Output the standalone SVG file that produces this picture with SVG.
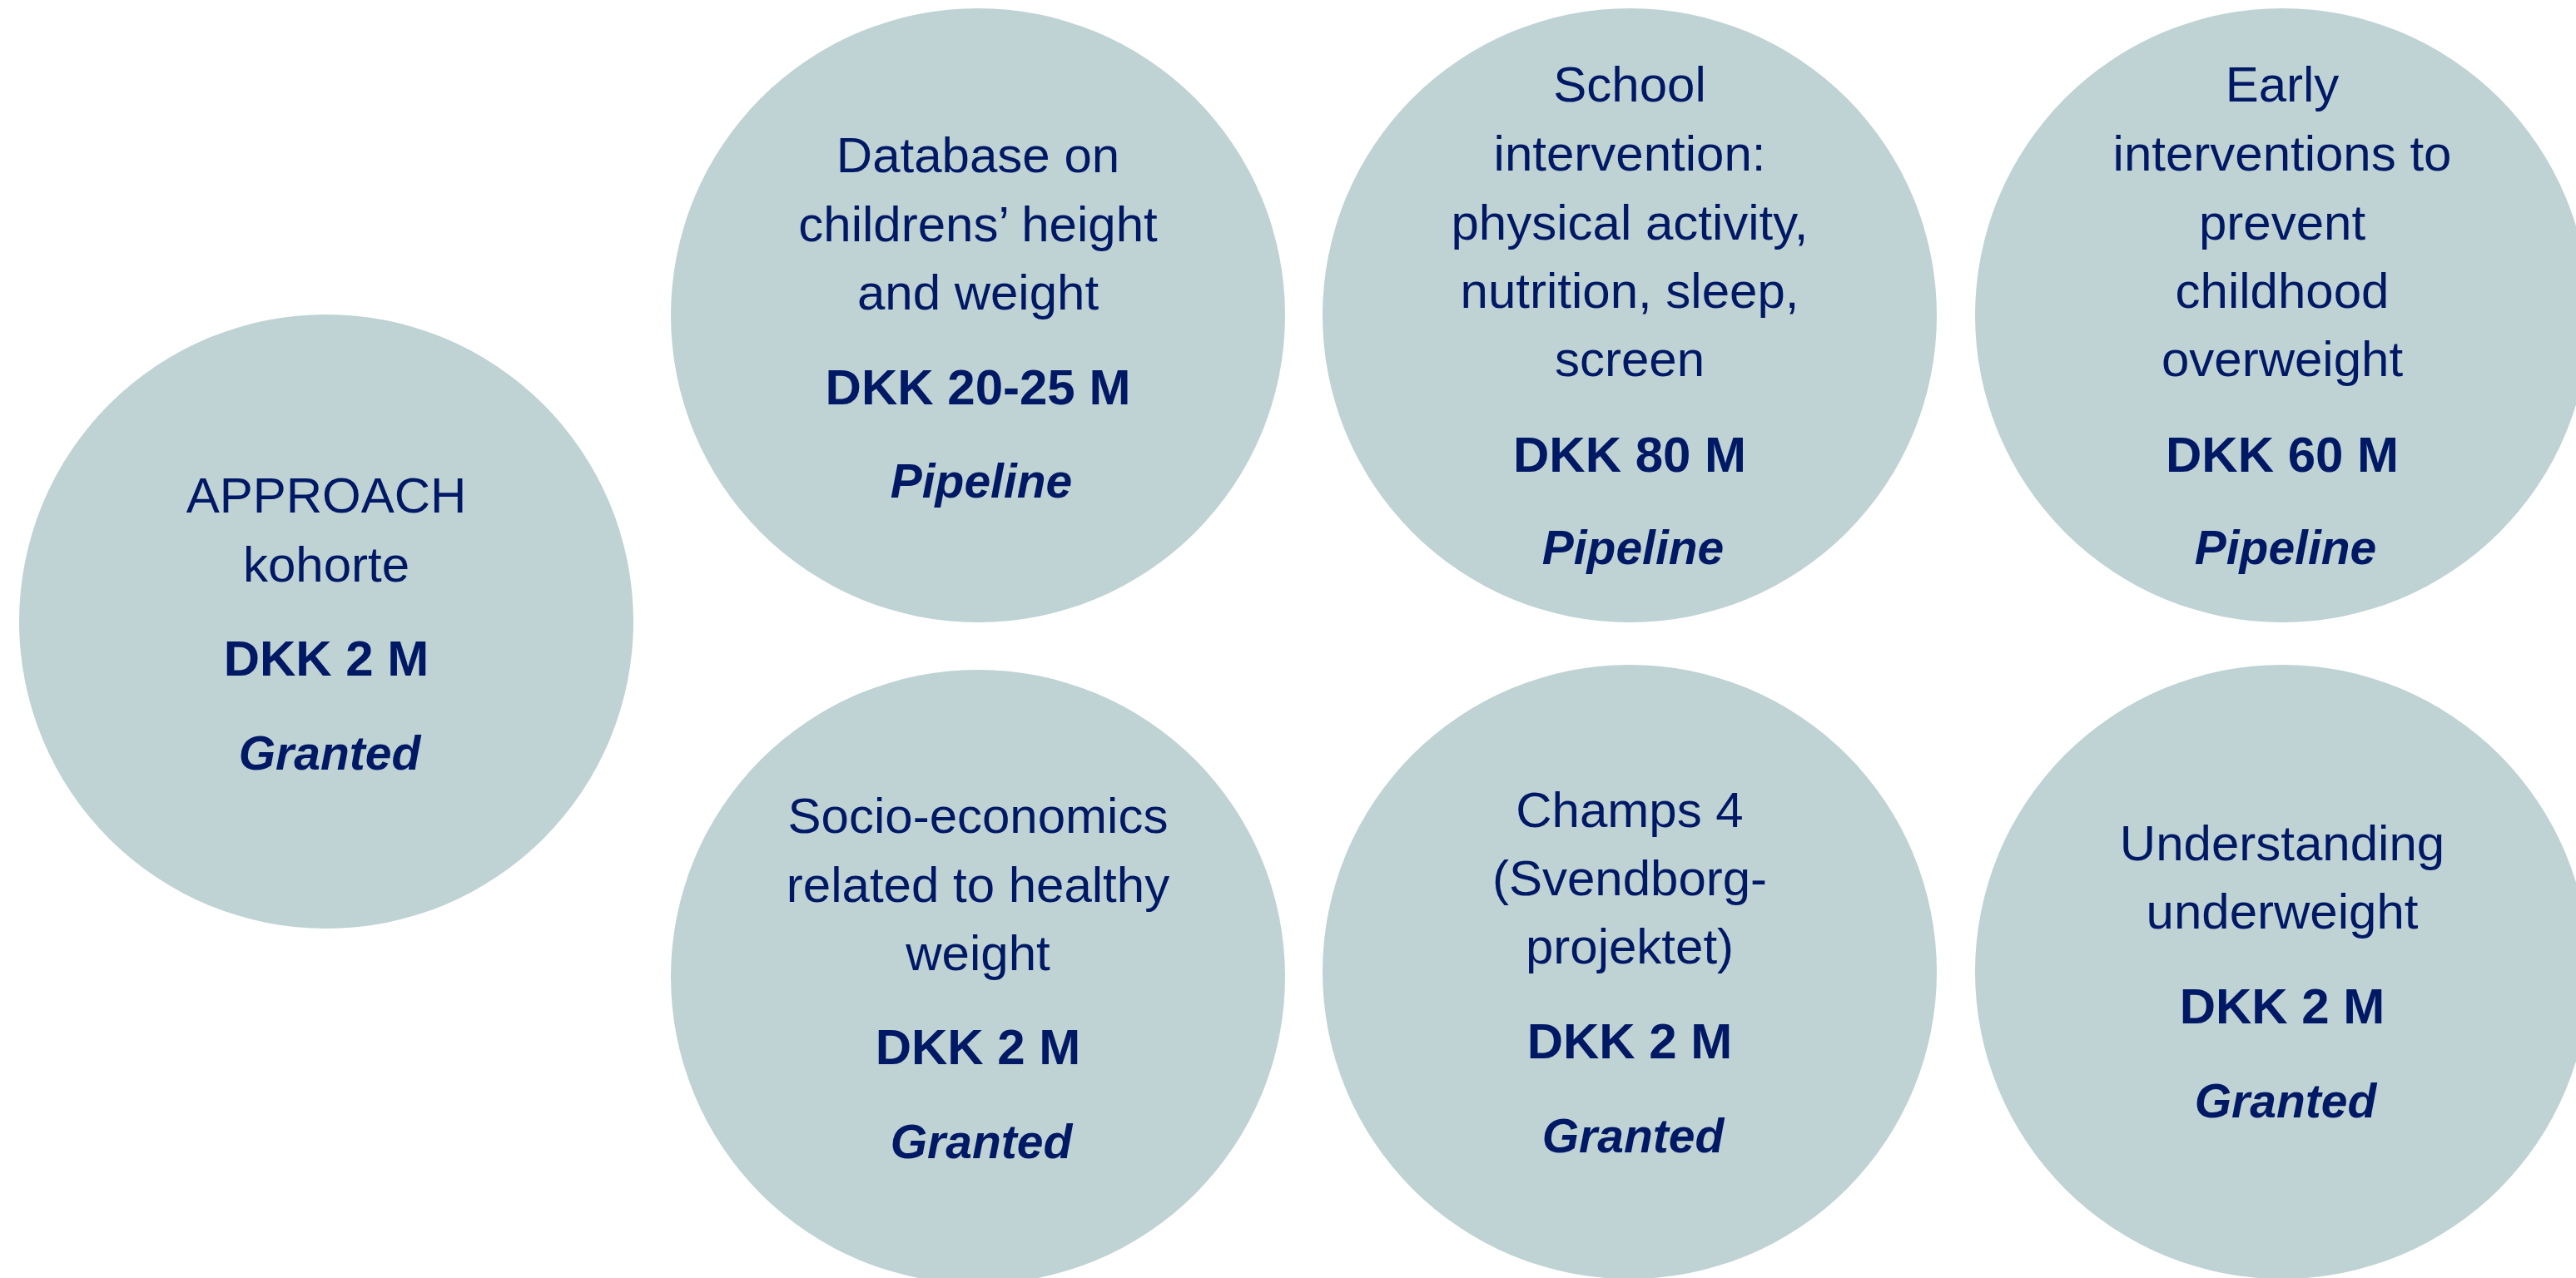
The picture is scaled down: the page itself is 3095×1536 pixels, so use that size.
<svg xmlns="http://www.w3.org/2000/svg" width="3095" height="1536" viewBox="0 0 3095 1536">
<style>
.c{fill:#BFD2D4}
text{font-family:"Liberation Sans",Arial,sans-serif;font-size:60px;fill:#001965;text-anchor:middle}
.b{font-weight:bold}
.s{font-weight:bold;font-style:italic;font-size:57px}
</style>
<rect width="3095" height="1536" fill="#FFFFFF"/>
<g id="connectors"/>
<g id="approach">
<circle class="c" cx="392" cy="747" r="369"/>
<text x="392" y="616">APPROACH</text>
<text x="392" y="699">kohorte</text>
<text class="b" x="392" y="812">DKK 2 M</text>
<text class="s" x="396" y="925">Granted</text>
</g>
<g id="database">
<circle class="c" cx="1175" cy="379" r="369"/>
<text x="1175" y="207">Database on</text>
<text x="1175" y="290">childrens’ height</text>
<text x="1175" y="372">and weight</text>
<text class="b" x="1175" y="486">DKK 20-25 M</text>
<text class="s" x="1179" y="598">Pipeline</text>
</g>
<g id="school">
<circle class="c" cx="1958" cy="379" r="369"/>
<text x="1958" y="122">School</text>
<text x="1958" y="205">intervention:</text>
<text x="1958" y="288">physical activity,</text>
<text x="1958" y="370">nutrition, sleep,</text>
<text x="1958" y="452">screen</text>
<text class="b" x="1958" y="567">DKK 80 M</text>
<text class="s" x="1962" y="678">Pipeline</text>
</g>
<g id="early">
<circle class="c" cx="2742" cy="379" r="369"/>
<text x="2742" y="122">Early</text>
<text x="2742" y="205">interventions to</text>
<text x="2742" y="288">prevent</text>
<text x="2742" y="370">childhood</text>
<text x="2742" y="452">overweight</text>
<text class="b" x="2742" y="567">DKK 60 M</text>
<text class="s" x="2746" y="678">Pipeline</text>
</g>
<g id="socio">
<circle class="c" cx="1175" cy="1174" r="369"/>
<text x="1175" y="1001">Socio-economics</text>
<text x="1175" y="1084">related to healthy</text>
<text x="1175" y="1166">weight</text>
<text class="b" x="1175" y="1279">DKK 2 M</text>
<text class="s" x="1179" y="1392">Granted</text>
</g>
<g id="champs">
<circle class="c" cx="1958" cy="1168" r="369"/>
<text x="1958" y="994">Champs 4</text>
<text x="1958" y="1076">(Svendborg-</text>
<text x="1958" y="1158">projektet)</text>
<text class="b" x="1958" y="1272">DKK 2 M</text>
<text class="s" x="1962" y="1385">Granted</text>
</g>
<g id="understanding">
<circle class="c" cx="2742" cy="1168" r="369"/>
<text x="2742" y="1034">Understanding</text>
<text x="2742" y="1116">underweight</text>
<text class="b" x="2742" y="1230">DKK 2 M</text>
<text class="s" x="2746" y="1343">Granted</text>
</g>
</svg>
